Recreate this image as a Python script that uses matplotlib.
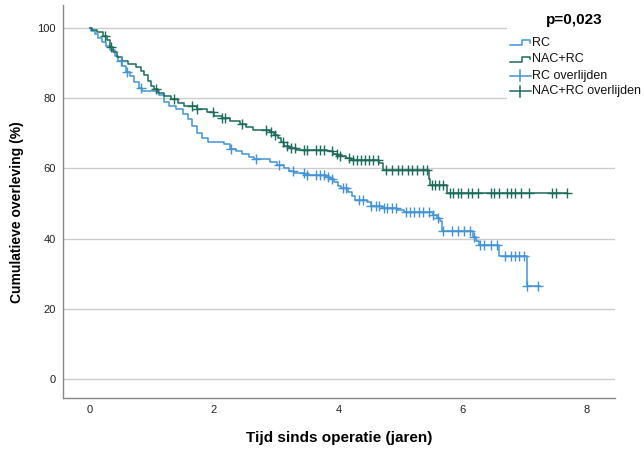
import numpy as np
import matplotlib
matplotlib.use("Agg")
import matplotlib.pyplot as plt
from matplotlib.lines import Line2D
from matplotlib.patches import Rectangle

plt.rcParams['font.family'] = ['Liberation Sans', 'DejaVu Sans']

# ---- data ----
rc_times = [0.0, 0.02, 0.08, 0.14, 0.20, 0.26, 0.33, 0.40, 0.46, 0.52, 0.58, 0.64, 0.72, 0.79, 0.84,
            1.12, 1.19, 1.28, 1.39, 1.50, 1.58, 1.65, 1.72, 1.80, 1.90, 2.16, 2.26, 2.36, 2.45, 2.56,
            2.65, 2.90, 3.02, 3.12, 3.20, 3.28, 3.45, 3.80, 3.87, 3.93, 4.00, 4.05, 4.16, 4.22, 4.27,
            4.46, 4.52, 4.70, 4.95, 5.05, 5.52, 5.58, 5.63, 5.66, 6.16, 6.22, 6.26, 6.58, 7.03]
rc_surv = [100.0, 99.2, 98.3, 97.2, 96.0, 94.8, 93.7, 92.0, 90.5, 89.0, 87.5, 86.2, 84.5, 83.0, 82.0,
           81.0, 79.0, 77.8, 76.8, 75.5, 74.0, 72.0, 70.2, 68.5, 67.5, 66.8, 65.6, 65.0, 64.0, 63.3,
           62.6, 61.9, 61.0, 60.0, 59.2, 58.6, 58.1, 57.6, 57.0, 56.0, 55.0, 54.4, 53.4, 52.0, 51.1,
           50.3, 49.4, 48.7, 48.0, 47.5, 46.6, 45.8, 45.0, 42.1, 40.5, 39.3, 38.1, 35.1, 26.4]
rc_end = 7.24
rc_censor = [0.50, 0.60, 0.83, 2.28, 2.68, 3.04, 3.27, 3.44, 3.50, 3.64, 3.70, 3.77, 3.83, 3.90,
             4.07, 4.13, 4.33, 4.40, 4.53, 4.60, 4.66, 4.73, 4.79, 4.86, 4.93, 5.09, 5.16, 5.22,
             5.29, 5.36, 5.45, 5.53, 5.60, 5.69, 5.82, 5.92, 6.02, 6.12, 6.18, 6.28, 6.35, 6.45,
             6.55, 6.68, 6.78, 6.84, 6.91, 6.98, 7.04, 7.21]

nac_times = [0.0, 0.03, 0.12, 0.22, 0.28, 0.32, 0.37, 0.44, 0.52, 0.62, 0.75, 0.82, 0.88, 0.93, 0.98,
             1.03, 1.10, 1.20, 1.30, 1.42, 1.52, 1.72, 1.88, 2.00, 2.12, 2.25, 2.42, 2.52, 2.62,
             2.90, 2.97, 3.03, 3.08, 3.13, 3.20, 3.32, 3.82, 3.92, 3.98, 4.12, 4.20, 4.66, 4.72,
             5.45, 5.48, 5.74]
nac_surv = [100.0, 99.5, 98.8, 97.8, 96.5, 94.5, 93.2, 91.8, 90.6, 89.8, 88.8, 87.8, 86.5, 85.0, 83.5,
            82.5, 81.5, 80.7, 79.6, 78.5, 77.7, 76.9, 76.0, 75.0, 74.2, 73.5, 72.6, 71.8, 71.0,
            70.4, 69.6, 68.5, 67.5, 66.5, 65.8, 65.3, 64.8, 64.0, 63.4, 62.9, 62.4, 61.4, 59.4,
            57.0, 55.2, 53.0]
nac_end = 7.67
nac_censor = [0.25, 0.34, 1.06, 1.36, 1.65, 1.72, 1.98, 2.12, 2.18, 2.45, 2.84, 2.91, 2.98, 3.11,
              3.17, 3.24, 3.31, 3.44, 3.50, 3.64, 3.70, 3.77, 3.90, 3.97, 4.03, 4.17, 4.23, 4.30,
              4.36, 4.43, 4.50, 4.56, 4.63, 4.76, 4.86, 4.96, 5.02, 5.12, 5.19, 5.26, 5.36, 5.42,
              5.50, 5.55, 5.62, 5.69, 5.79, 5.85, 5.92, 5.98, 6.08, 6.15, 6.25, 6.45, 6.51, 6.58,
              6.71, 6.78, 6.84, 6.94, 7.07, 7.44, 7.50, 7.67]

x_ticks = [0, 2, 4, 6, 8]
y_ticks = [0, 20, 40, 60, 80, 100]
legend_labels = ["RC", "NAC+RC", "RC overlijden", "NAC+RC overlijden"]
p_text = "p=0,023"

RC_COLOR = "#4393d6"
NAC_COLOR = "#1c6b5c"

W, H = 644, 449
fig = plt.figure(figsize=(W / 100, H / 100), dpi=100)
ax = fig.add_axes([63 / W, 1 - 397.7 / H, (615 - 63) / W, (397.7 - 5) / H])


def step_level(times, surv, t):
    idx = np.searchsorted(np.asarray(times), np.asarray(t), side='right') - 1
    return np.asarray(surv)[idx]


for times, surv, end, cens, col in [(rc_times, rc_surv, rc_end, rc_censor, RC_COLOR),
                                    (nac_times, nac_surv, nac_end, nac_censor, NAC_COLOR)]:
    xs = list(times) + [end]
    ys = list(surv) + [surv[-1]]
    ax.step(xs, ys, where='post', color=col, lw=1.1, zorder=3)
    ax.plot(cens, step_level(times, surv, cens), linestyle='none', marker='+',
            markersize=7, markeredgewidth=1.0, color=col, zorder=4)

ax.set_xlim(-0.43, 8.45)
ax.set_ylim(-5.3, 106.5)
ax.set_xticks(x_ticks)
ax.set_yticks(y_ticks)
ax.tick_params(length=0, labelsize=8, colors='#222222', pad=5)
ax.yaxis.grid(True, color='#cccccc', lw=1.0)
ax.set_axisbelow(True)
for s in ['top', 'right']:
    ax.spines[s].set_visible(False)
for s in ['left', 'bottom']:
    ax.spines[s].set_color('#888888')
    ax.spines[s].set_linewidth(1.0)

ax.set_xlabel("Tijd sinds operatie (jaren)", fontsize=11, fontweight='bold', labelpad=12)
ax.set_ylabel("Cumulatieve overleving (%)", fontsize=10, fontweight='bold')
ax.yaxis.set_label_coords((24 - 63) / 552, (397.7 - 212) / 392.7)

# ---- legend box (manual, in pixel-based figure coordinates) ----
def fx(px):
    return px / W


def fy(py):
    return 1 - py / H


fig.add_artist(Rectangle((fx(507), fy(118)), fx(644) - fx(507), fy(0) - fy(118),
                         transform=fig.transFigure, facecolor='white', edgecolor='none', zorder=5))
fig.text(fx(574), fy(20), p_text, fontsize=11, fontweight='bold', ha='center', va='center', zorder=6)

rows_y = [42.7, 59.3, 75.5, 91.5]
cols = [RC_COLOR, NAC_COLOR, RC_COLOR, NAC_COLOR]
for i, (lab, yy, col) in enumerate(zip(legend_labels, rows_y, cols)):
    if i < 2:
        xs = [fx(510), fx(522), fx(522), fx(530), fx(530)]
        ys = [fy(yy + 2.5), fy(yy + 2.5), fy(yy - 2.5), fy(yy - 2.5), fy(yy)]
        fig.add_artist(Line2D(xs, ys, color=col, lw=1.1, transform=fig.transFigure, zorder=6))
    else:
        fig.add_artist(Line2D([fx(510), fx(531)], [fy(yy), fy(yy)], color=col, lw=1.1,
                              transform=fig.transFigure, zorder=6))
        fig.add_artist(Line2D([fx(520), fx(520)], [fy(yy - 5.5), fy(yy + 5.5)], color=col, lw=1.1,
                              transform=fig.transFigure, zorder=6))
    fig.text(fx(532), fy(yy), lab, fontsize=9, ha='left', va='center', color='#111111', zorder=6)

fig.savefig("out.png", dpi=100)
